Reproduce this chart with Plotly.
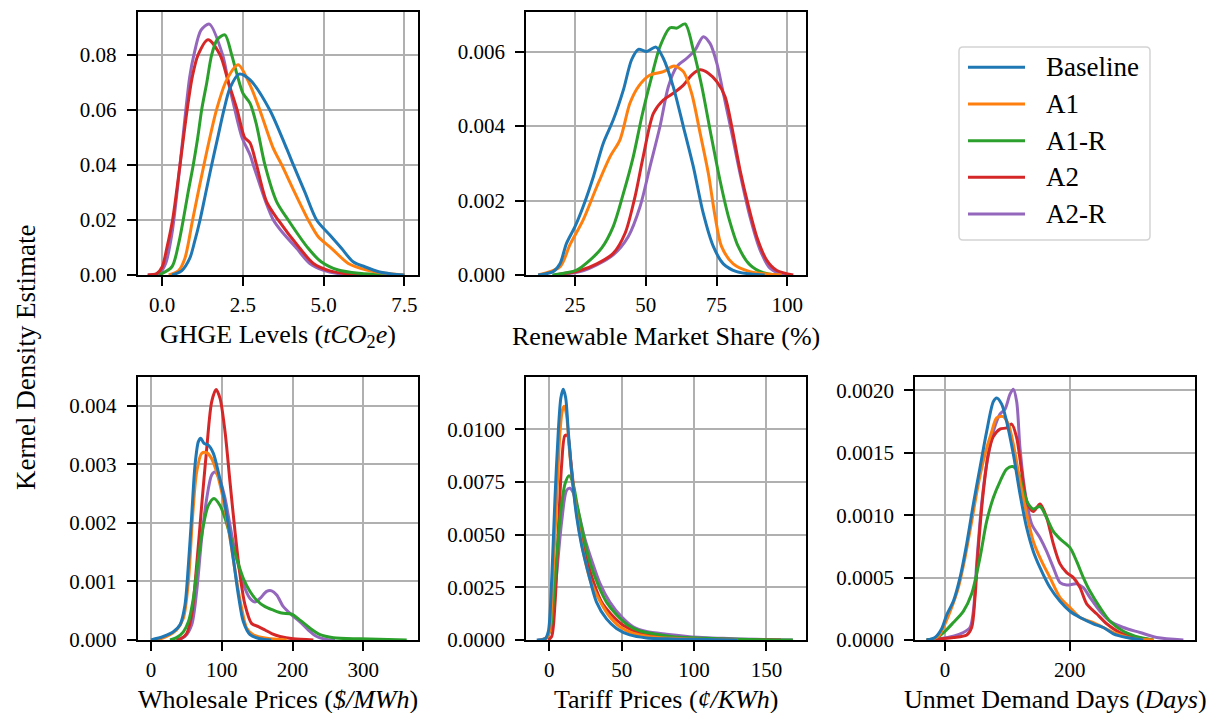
import plotly.graph_objects as go

W, H = 1223, 713

SCENARIOS = ["Baseline", "A1", "A1-R", "A2", "A2-R"]
COLORS = ["#1f77b4", "#ff7f0e", "#2ca02c", "#d62728", "#9467bd"]

# ---- GHGE levels (tCO2e): (value, density) samples of each KDE curve ----
ghge_baseline = [(0.3, 0), (0.6, 0.0015), (0.85, 0.006), (1.0, 0.012), (1.17, 0.02), (1.35, 0.03), (1.53, 0.04),
                 (1.72, 0.05), (1.91, 0.06), (2.1, 0.068), (2.38, 0.073), (2.72, 0.0709), (3.33, 0.06),
                 (3.85, 0.046), (4.06, 0.04), (4.42, 0.03), (4.78, 0.02), (5.19, 0.0145), (5.55, 0.0097),
                 (5.91, 0.0048), (6.27, 0.003), (6.7, 0.0012), (7.1, 0.0004), (7.5, 0)]
ghge_a1 = [(0.2, 0), (0.5, 0.0015), (0.7, 0.006), (0.94, 0.02), (1.29, 0.04), (1.68, 0.06), (2.0, 0.071),
           (2.35, 0.0764), (2.72, 0.069), (3.02, 0.06), (3.44, 0.046), (3.7, 0.04), (4.1, 0.03), (4.52, 0.02),
           (4.83, 0.0139), (5.24, 0.0097), (5.76, 0.0042), (6.33, 0.0018), (6.9, 0.0006), (7.5, 0)]
ghge_a1r = [(-0.1, 0), (0.3, 0.003), (0.5, 0.011), (0.65, 0.02), (0.8, 0.03), (0.96, 0.04), (1.1, 0.05),
            (1.22, 0.06), (1.38, 0.07), (1.53, 0.08), (1.7, 0.0855), (1.94, 0.0873), (2.15, 0.08),
            (2.32, 0.0727), (2.5, 0.066), (2.72, 0.0624), (2.92, 0.0545), (3.18, 0.04), (3.54, 0.0267),
            (3.9, 0.02), (4.52, 0.0097), (4.92, 0.0048), (5.45, 0.0018), (6.1, 0.0006), (7.0, 0)]
ghge_a2 = [(-0.45, 0), (-0.17, 0.0005), (0.0, 0.003), (0.14, 0.0097), (0.32, 0.02), (0.55, 0.04), (0.77, 0.06),
           (0.93, 0.072), (1.11, 0.08), (1.42, 0.0855), (1.79, 0.08), (2.05, 0.07), (2.32, 0.06), (2.55, 0.05),
           (2.72, 0.048), (2.92, 0.04), (3.23, 0.0267), (3.59, 0.02), (4.26, 0.0097), (4.68, 0.0042),
           (5.19, 0.0015), (5.8, 0.0003), (6.2, 0)]
ghge_a2r = [(-0.45, 0), (-0.1, 0.0005), (0.1, 0.004), (0.3, 0.015), (0.55, 0.04), (0.73, 0.06), (0.85, 0.072),
            (0.98, 0.08), (1.2, 0.089), (1.46, 0.0912), (1.87, 0.08), (2.05, 0.07), (2.25, 0.06), (2.47, 0.05),
            (2.72, 0.0436), (2.82, 0.04), (3.2, 0.0267), (3.44, 0.02), (3.7, 0.0158), (4.16, 0.0097),
            (4.57, 0.0042), (4.98, 0.0018), (5.5, 0.0004), (6.0, 0)]

# ---- Renewable market share (%) ----
share_baseline = [(12, 0), (17.3, 0.00009), (19.7, 0.0003), (22, 0.00085), (25, 0.0013), (27.9, 0.00184),
                  (31.5, 0.00264), (35, 0.00354), (38.5, 0.00416), (42.1, 0.00497), (45, 0.00578),
                  (47.4, 0.00606), (50.3, 0.006), (53.6, 0.00612), (56.2, 0.00582), (59.7, 0.00506),
                  (63.3, 0.00398), (66.8, 0.00291), (70.3, 0.00166), (73.9, 0.00076), (77.4, 0.0003),
                  (82.1, 0.00009), (88, 0.00002), (92, 0)]
share_a1 = [(12, 0), (19.7, 0.00022), (23.2, 0.00081), (27.9, 0.00148), (32.7, 0.00237), (37.4, 0.00318),
            (40.9, 0.00363), (44.4, 0.00461), (47.4, 0.00506), (51.5, 0.00537), (56.2, 0.00546), (60, 0.00561),
            (63.3, 0.00546), (66.2, 0.00488), (69.2, 0.00381), (72.1, 0.00273), (74.5, 0.00157),
            (76.8, 0.00076), (80.9, 0.0003), (86.8, 0.00009), (93.9, 0.00002), (98, 0)]
share_a1r = [(17, 0), (25.6, 0.00013), (30.3, 0.0004), (34.4, 0.00072), (38.5, 0.0013), (42.1, 0.00219),
             (45.6, 0.00318), (48.6, 0.00425), (51.5, 0.00515), (55, 0.00613), (58.6, 0.00664), (61, 0.00663),
             (63.9, 0.00674), (66.8, 0.00604), (69.8, 0.00506), (72.7, 0.0039), (76.2, 0.00255),
             (79.2, 0.00157), (82.7, 0.00076), (86.8, 0.00027), (91.5, 0.00006), (96.3, 0)]
share_a2 = [(18, 0), (26.8, 0.00012), (32.7, 0.0003), (38.5, 0.00058), (42.7, 0.00112), (46.2, 0.0021),
            (49.1, 0.00318), (52.7, 0.00434), (56.2, 0.0047), (59.7, 0.00488), (63.3, 0.0051), (66.2, 0.00537),
            (69.2, 0.00551), (72.1, 0.00542), (75.1, 0.00519), (78, 0.00479), (80.4, 0.00398), (83.3, 0.00282),
            (86.3, 0.00184), (89.2, 0.00103), (92.7, 0.0004), (96.3, 0.00012), (102.1, 0)]
share_a2r = [(18, 0), (26.8, 0.00009), (32.7, 0.00027), (38.5, 0.00054), (43.8, 0.00103), (48, 0.00184),
             (51.5, 0.00291), (55, 0.00398), (58, 0.00506), (61, 0.0056), (64.5, 0.00582), (67.4, 0.00604),
             (70.3, 0.0064), (72.7, 0.00622), (75.1, 0.00569), (77.4, 0.00488), (80.4, 0.00381),
             (83.3, 0.00273), (86.8, 0.00157), (90.4, 0.00067), (93.9, 0.00018), (97.4, 0.00003), (100, 0)]

# ---- Wholesale prices ($/MWh) ----
whole_baseline = [(0, 0), (17.4, 0.00006), (31.6, 0.00014), (41, 0.00026), (48, 0.0006), (52.8, 0.00128),
                  (57.5, 0.00213), (62.2, 0.00299), (66.9, 0.00339), (70.2, 0.00345), (74.9, 0.00336),
                  (81, 0.00333), (88.1, 0.00319), (95.1, 0.00287), (102.2, 0.00248), (109.3, 0.00196),
                  (116.3, 0.00139), (123.4, 0.00077), (130.5, 0.00031), (139.9, 0.00009), (154, 0.00002),
                  (170, 0)]
whole_a1 = [(8, 0), (22, 0.00006), (36, 0.00017), (45.7, 0.00037), (52.8, 0.001), (58.9, 0.00213),
            (64.5, 0.00287), (71.6, 0.00319), (78.7, 0.0032), (85.7, 0.0031), (92.8, 0.00287), (99.9, 0.00253),
            (106.9, 0.00208), (114, 0.00156), (121.1, 0.001), (128.1, 0.00054), (135.2, 0.0002),
            (144.6, 0.00009), (163.4, 0.00003), (191.7, 0)]
whole_a1r = [(26.8, 0), (36, 0.00004), (45.7, 0.00014), (52.8, 0.00031), (59.8, 0.00071), (66.9, 0.00139),
             (74, 0.00196), (81, 0.0023), (89, 0.00242), (97.5, 0.0023), (104.6, 0.00208), (111.6, 0.00179),
             (121.1, 0.00139), (130.5, 0.00105), (139.9, 0.00083), (149.3, 0.00068), (161.1, 0.00057),
             (172.9, 0.00051), (184.6, 0.00046), (198.8, 0.00044), (210.5, 0.00034), (224.7, 0.0002),
             (238.8, 0.00009), (257.7, 0.00004), (295.3, 0.00002), (361.3, 0)]
whole_a2 = [(36, 0), (43.3, 0.00003), (50.4, 0.00011), (57.5, 0.00043), (64.5, 0.00128), (71.6, 0.0023),
            (78.7, 0.00327), (85.7, 0.00407), (91.9, 0.00428), (97.5, 0.00413), (104.6, 0.00356),
            (111.6, 0.0027), (118.7, 0.00185), (125.8, 0.00111), (132.8, 0.0006), (142.3, 0.00028),
            (151.7, 0.00023), (161.1, 0.00017), (170.5, 0.00011), (182.3, 0.00006), (201.1, 0.00002),
            (229.4, 0)]
whole_a2r = [(36, 0), (48, 0.00006), (57.5, 0.00026), (64.5, 0.00083), (71.6, 0.00174), (78.7, 0.00242),
             (85.7, 0.00282), (90.4, 0.00287), (97.5, 0.00273), (104.6, 0.00242), (111.6, 0.00196),
             (118.7, 0.00151), (125.8, 0.00117), (132.8, 0.00088), (139.9, 0.00071), (147, 0.00065),
             (154, 0.00071), (163.4, 0.00083), (170.5, 0.00084), (177.6, 0.00077), (187, 0.00057),
             (198.8, 0.00043), (210.5, 0.00031), (222.3, 0.00017), (234.1, 0.00006), (248.2, 0.00001),
             (260, 0)]

# ---- Tariff prices (cents/KWh) ----
tariff_baseline = [(-8.7, 0), (-3, 0.00005), (-0.7, 0.0004), (1.6, 0.0028), (3.9, 0.0067), (6.2, 0.0099),
                   (8, 0.0115), (9.6, 0.0119), (11.3, 0.0115), (13.1, 0.0099), (15.4, 0.008), (18.8, 0.0059),
                   (22.3, 0.0045), (26.9, 0.0032), (32.6, 0.0018), (39.5, 0.001), (46.4, 0.00055),
                   (55.6, 0.00024), (67.1, 0.0001), (85.5, 0.00005), (108.4, 0.00002), (130, 0)]
tariff_a1 = [(-6.4, 0), (-2.3, 0.00008), (0, 0.0004), (2.3, 0.0028), (5.1, 0.0067), (7.4, 0.0099), (9, 0.0109),
             (10.3, 0.0111), (11.9, 0.0107), (13.8, 0.0091), (16.1, 0.0075), (19.3, 0.0058), (23.4, 0.0042),
             (28, 0.0029), (33.8, 0.002), (40.7, 0.0012), (48.7, 0.00063), (57.9, 0.00032), (69.4, 0.00016),
             (85.5, 0.00008), (108.4, 0.00002), (130, 0)]
tariff_a1r = [(-5.3, 0), (-1.8, 0.0001), (1.1, 0.0007), (3.9, 0.0029), (7.4, 0.0058), (10.8, 0.0074),
              (13.6, 0.0078), (16.1, 0.0075), (19.3, 0.0064), (23.4, 0.005), (28, 0.0037), (33.8, 0.0026),
              (39.5, 0.0018), (46.4, 0.0012), (54.4, 0.0007), (62.5, 0.00043), (74, 0.00027), (85.5, 0.00016),
              (108.4, 0.00008), (131.4, 0.00003), (168.2, 0)]
tariff_a2 = [(-0.7, 0), (1.6, 0.00016), (3.9, 0.0017), (6.2, 0.0051), (8.5, 0.0083), (10.8, 0.0097),
             (12.6, 0.0097), (14.7, 0.0086), (17.7, 0.0067), (21.1, 0.0053), (25.7, 0.0039), (30.3, 0.0028),
             (36.1, 0.0018), (43, 0.0012), (51, 0.0007), (62.5, 0.00032), (76.3, 0.00016), (96.9, 0.00008),
             (131.4, 0.00002), (160, 0)]
tariff_a2r = [(-7.6, 0), (-2.3, 0.0001), (1.1, 0.0006), (4.6, 0.0028), (8.5, 0.0056), (11.9, 0.0071),
              (14.2, 0.0072), (16.5, 0.007), (20, 0.0061), (24.6, 0.0048), (29.2, 0.0038), (34.9, 0.0027),
              (41.8, 0.0018), (49.9, 0.0011), (57.9, 0.00063), (67.1, 0.0004), (80.9, 0.00027),
              (96.9, 0.00016), (119.9, 0.00008), (142.9, 0.00003), (168.2, 0)]

# ---- Unmet demand days ----
unmet_baseline = [(-29.4, 0), (-16, 0.00002), (-5.3, 0.00009), (2.7, 0.0002), (13.4, 0.00031), (24.1, 0.0005),
                  (34.8, 0.00077), (45.5, 0.00109), (56.1, 0.00138), (66.8, 0.00167), (77.5, 0.00191),
                  (82.9, 0.00194), (90.9, 0.00189), (98.9, 0.00175), (109.6, 0.00149), (120.3, 0.00117),
                  (131, 0.0009), (141.7, 0.00071), (152.4, 0.00058), (168.4, 0.00042), (184.5, 0.00031),
                  (200.5, 0.00023), (216.6, 0.00018), (238, 0.00013), (254, 0.0001), (270, 0.00005),
                  (291.4, 0.00002), (318.2, 0)]
unmet_a1 = [(-24, 0), (-10.7, 0.00003), (0, 0.00013), (10.7, 0.00026), (21.4, 0.00042), (32.1, 0.00066),
            (42.8, 0.00095), (53.5, 0.00125), (64.2, 0.00149), (74.9, 0.00167), (82.9, 0.00178),
            (93.6, 0.00179), (101.6, 0.00173), (109.6, 0.00157), (120.3, 0.00127), (131, 0.00101),
            (141.7, 0.00079), (155.1, 0.00063), (168.4, 0.0005), (184.5, 0.00034), (200.5, 0.00026),
            (216.6, 0.00018), (238, 0.00014), (254, 0.0001), (275.4, 0.00005), (302.1, 0.00001), (334.2, 0)]
unmet_a1r = [(-29.4, 0), (-13.4, 0.00002), (0, 0.00007), (13.4, 0.00014), (29.4, 0.00023), (42.8, 0.00037),
             (56.1, 0.00066), (66.8, 0.00095), (77.5, 0.00114), (88.2, 0.00127), (98.9, 0.00137),
             (108.6, 0.00139), (117.6, 0.00134), (125.7, 0.00119), (133.7, 0.00109), (141.7, 0.00105),
             (152.4, 0.00107), (163.1, 0.00098), (173.8, 0.00087), (184.5, 0.00081), (200.5, 0.00074),
             (211.2, 0.00063), (221.9, 0.0005), (232.6, 0.00039), (248.7, 0.00026), (264.7, 0.00015),
             (286.1, 0.00007), (312.8, 0.00002), (334.2, 0)]
unmet_a2 = [(-29.4, 0), (-8, 0.00001), (13.4, 0.00002), (34.8, 0.00004), (42.8, 0.0001), (48.1, 0.00034),
            (53.5, 0.00074), (61.5, 0.00119), (69.5, 0.00149), (77.5, 0.00163), (88.2, 0.00169),
            (98.9, 0.0017), (107, 0.00173), (115, 0.00162), (123, 0.00135), (131, 0.00111), (141.7, 0.00103),
            (152.4, 0.00109), (163.1, 0.00098), (173.8, 0.00077), (184.5, 0.00061), (195.2, 0.00054),
            (205.9, 0.0005), (216.6, 0.00042), (227.3, 0.00029), (243.3, 0.00021), (259.4, 0.00013),
            (280.7, 0.00006), (307.5, 0.00002), (334.2, 0)]
unmet_a2r = [(-29.4, 0), (-8, 0.00001), (13.4, 0.00003), (29.4, 0.00006), (40.1, 0.0001), (45.5, 0.00023),
             (50.8, 0.00061), (58.8, 0.00109), (66.8, 0.00141), (77.5, 0.00167), (88.2, 0.00181),
             (96.3, 0.00185), (104.3, 0.00197), (109.6, 0.00201), (115, 0.00191), (120.3, 0.00154),
             (128.3, 0.00119), (139, 0.00093), (152.4, 0.00082), (163.1, 0.00071), (173.8, 0.00058),
             (184.5, 0.00046), (195.2, 0.00044), (211.2, 0.00045), (221.9, 0.00042), (232.6, 0.00034),
             (248.7, 0.00023), (264.7, 0.00015), (286.1, 0.0001), (312.8, 0.00006), (339.6, 0.00002),
             (382.4, 0)]

FONT = "Liberation Serif"
TICK_SIZE = 21
LABEL_SIZE = 26
LINE_W = 3.0


def xdom(left, right):
    return [left / W, right / W]


def ydom(top, bottom):
    return [1 - bottom / H, 1 - top / H]


panels = [
    dict(curves=[ghge_baseline, ghge_a1, ghge_a1r, ghge_a2, ghge_a2r],
         xd=xdom(137.7, 417.7), yd=ydom(11.7, 275), xr=[-0.76, 7.91], yr=[0, 0.0957],
         xt=[0, 2.5, 5, 7.5], xf=".1f", yt=[0, 0.02, 0.04, 0.06, 0.08], yf=".2f",
         title="GHGE Levels (<i>tCO</i><sub>2</sub><i>e</i>)", ty=336),
    dict(curves=[share_baseline, share_a1, share_a1r, share_a2, share_a2r],
         xd=xdom(526, 806), yd=ydom(11.7, 275), xr=[7.7, 106.6], yr=[0, 0.00707],
         xt=[25, 50, 75, 100], xf="d", yt=[0, 0.002, 0.004, 0.006], yf=".3f",
         title="Renewable Market Share (%)", ty=336),
    dict(curves=[whole_baseline, whole_a1, whole_a1r, whole_a2, whole_a2r],
         xd=xdom(137.7, 417.7), yd=ydom(376.7, 640), xr=[-18.8, 376.8], yr=[0, 0.0045],
         xt=[0, 100, 200, 300], xf="d", yt=[0, 0.001, 0.002, 0.003, 0.004], yf=".3f",
         title="Wholesale Prices (<i>$/MWh</i>)", ty=699),
    dict(curves=[tariff_baseline, tariff_a1, tariff_a1r, tariff_a2, tariff_a2r],
         xd=xdom(526, 806), yd=ydom(376.7, 640), xr=[-16.1, 177.3], yr=[0, 0.0125],
         xt=[0, 50, 100, 150], xf="d", yt=[0, 0.0025, 0.005, 0.0075, 0.01], yf=".4f",
         title="Tariff Prices (<i>¢/KWh</i>)", ty=699),
    dict(curves=[unmet_baseline, unmet_a1, unmet_a1r, unmet_a2, unmet_a2r],
         xd=xdom(915, 1195), yd=ydom(376.7, 640), xr=[-48.1, 401], yr=[0, 0.00211],
         xt=[0, 200], xf="d", yt=[0, 0.0005, 0.001, 0.0015, 0.002], yf=".4f",
         title="Unmet Demand Days (<i>Days</i>)", ty=699),
]

fig = go.Figure()
annotations = []
shapes = []

axis_common = dict(
    showline=True, mirror=True, linecolor="black", linewidth=1.8,
    ticks="outside", ticklen=9, tickwidth=1.5, tickcolor="black",
    showgrid=True, gridcolor="#b0b0b0", gridwidth=1.5, zeroline=False,
    tickfont=dict(family=FONT, size=TICK_SIZE, color="black"),
    automargin=False, fixedrange=True,
)

for i, p in enumerate(panels, start=1):
    suffix = "" if i == 1 else str(i)
    # last scenario drawn first so Baseline ends on top
    for k in reversed(range(len(SCENARIOS))):
        pts = p["curves"][k]
        fig.add_trace(go.Scatter(
            x=[v for v, _ in pts], y=[d for _, d in pts],
            mode="lines", name=SCENARIOS[k], showlegend=False,
            line=dict(color=COLORS[k], width=LINE_W, shape="spline", smoothing=0.8),
            xaxis="x" + suffix, yaxis="y" + suffix, hoverinfo="skip",
        ))
    fig.layout["xaxis" + suffix] = dict(
        axis_common, domain=p["xd"], range=p["xr"], anchor="y" + suffix,
        tickmode="array", tickvals=p["xt"], tickformat=p["xf"], ticklabelstandoff=1,
    )
    fig.layout["yaxis" + suffix] = dict(
        axis_common, domain=p["yd"], range=p["yr"], anchor="x" + suffix,
        tickmode="array", tickvals=p["yt"], tickformat=p["yf"], ticklabelstandoff=6,
    )
    cx = (p["xd"][0] + p["xd"][1]) / 2
    annotations.append(dict(
        text=p["title"], xref="paper", yref="paper", x=cx, y=1 - p["ty"] / H,
        xanchor="center", yanchor="middle", showarrow=False,
        font=dict(family=FONT, size=LABEL_SIZE, color="black"),
    ))

# shared y-axis title
annotations.append(dict(
    text="Kernel Density Estimate", xref="paper", yref="paper", x=26 / W, y=1 - 358 / H,
    xanchor="center", yanchor="middle", showarrow=False, textangle=-90,
    font=dict(family=FONT, size=27, color="black"),
))

# legend box with rounded corners
bx0, bx1, by0, by1, r = 959, 1150, 47, 240, 4


def P(x, y):
    return f"{x / W:.5f},{1 - y / H:.5f}"


legend_path = (
    f"M{P(bx0 + r, by0)} L{P(bx1 - r, by0)} Q{P(bx1, by0)} {P(bx1, by0 + r)} "
    f"L{P(bx1, by1 - r)} Q{P(bx1, by1)} {P(bx1 - r, by1)} "
    f"L{P(bx0 + r, by1)} Q{P(bx0, by1)} {P(bx0, by1 - r)} "
    f"L{P(bx0, by0 + r)} Q{P(bx0, by0)} {P(bx0 + r, by0)} Z"
)
shapes.append(dict(type="path", path=legend_path, xref="paper", yref="paper",
                    line=dict(color="#d4d4d4", width=1.5), fillcolor="rgba(255,255,255,0.8)"))

row_y = [67.3, 104, 140.7, 177.3, 214]
for k, name in enumerate(SCENARIOS):
    yy = 1 - row_y[k] / H
    shapes.append(dict(type="line", xref="paper", yref="paper",
                        x0=968 / W, x1=1025 / W, y0=yy, y1=yy,
                        line=dict(color=COLORS[k], width=LINE_W)))
    annotations.append(dict(
        text=name, xref="paper", yref="paper", x=1044 / W, y=yy,
        xanchor="left", yanchor="middle", showarrow=False,
        font=dict(family=FONT, size=27, color="black"),
    ))

fig.update_layout(
    width=W, height=H, margin=dict(l=0, r=0, t=0, b=0),
    paper_bgcolor="white", plot_bgcolor="white",
    showlegend=False, annotations=annotations, shapes=shapes,
)

fig.write_html("out.html", config={"displayModeBar": False})
